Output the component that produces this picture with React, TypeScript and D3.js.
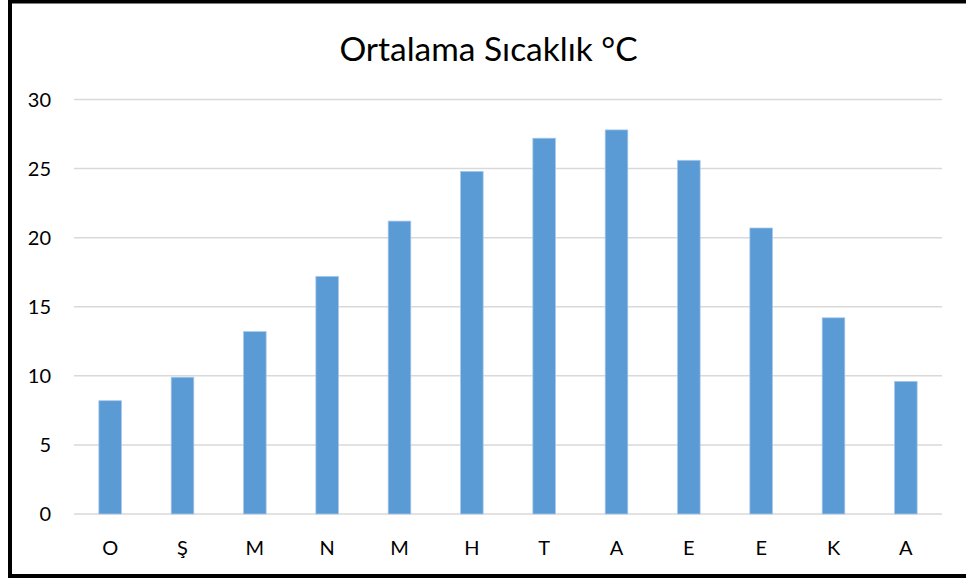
import React, {useEffect, useRef} from 'react';
import * as d3 from 'd3';

// months (Turkish initials) and average temperatures
const months: string[] = ['O', 'Ş', 'M', 'N', 'M', 'H', 'T', 'A', 'E', 'E', 'K', 'A'];
const temps: number[] = [8.2, 9.9, 13.2, 17.2, 21.2, 24.8, 27.2, 27.8, 25.6, 20.7, 14.2, 9.6];
const yTicks: number[] = [0, 5, 10, 15, 20, 25, 30];
const title = 'Ortalama Sıcaklık °C';

const App = () => {
  const ref = useRef<SVGSVGElement>(null);

  useEffect(() => {
    drawChart();
    return () => {
      d3.select(ref.current).selectAll('*').remove();
    };
  }, []);

  const drawChart = () => {
    const width = 966;
    const height = 578;
    const plot = {left: 74, right: 942, top: 99.5, bottom: 514};
    const font = 'Lato, "Open Sans", sans-serif';

    const svg = d3.select(ref.current);

    // frame: left, top and bottom edges only
    svg.append('rect').attr('width', width).attr('height', height).attr('fill', '#fff');
    svg.append('path')
      .attr('d', `M10,${height} V1.5 H${width} M10,576 H${width}`)
      .attr('stroke', '#000')
      .attr('stroke-width', 4)
      .attr('fill', 'none');

    const x = d3.scaleBand<number>()
      .domain(d3.range(months.length))
      .range([plot.left, plot.right])
      .paddingInner(0.687)
      .paddingOuter(0.687 / 2);

    const y = d3.scaleLinear().domain([0, 30]).range([plot.bottom, plot.top]);

    // gridlines
    svg.append('g')
      .selectAll('line')
      .data(yTicks)
      .enter().append('line')
      .attr('x1', plot.left)
      .attr('x2', plot.right)
      .attr('y1', d => y(d))
      .attr('y2', d => y(d))
      .attr('stroke', '#d9d9d9')
      .attr('stroke-width', 1.5);

    // y labels
    svg.append('g')
      .selectAll('text')
      .data(yTicks)
      .enter().append('text')
      .attr('x', 51)
      .attr('y', d => y(d))
      .attr('dy', '0.36em')
      .attr('text-anchor', 'end')
      .attr('font-family', font)
      .attr('font-size', 20)
      .attr('fill', '#000')
      .text(d => d);

    // bars
    svg.append('g')
      .selectAll('rect')
      .data(temps)
      .enter().append('rect')
      .attr('x', (_, i) => x(i)!)
      .attr('width', x.bandwidth())
      .attr('y', d => y(d))
      .attr('height', d => y(0) - y(d))
      .attr('fill', '#5b9bd5')
      .attr('stroke', '#a9c8ec')
      .attr('stroke-width', 0.75);

    // x labels
    svg.append('g')
      .selectAll('text')
      .data(months)
      .enter().append('text')
      .attr('x', (_, i) => x(i)! + x.bandwidth() / 2)
      .attr('y', 555)
      .attr('text-anchor', 'middle')
      .attr('font-family', font)
      .attr('font-size', 20)
      .attr('fill', '#000')
      .text(d => d);

    svg.append('text')
      .attr('x', 488.5)
      .attr('y', 61)
      .attr('text-anchor', 'middle')
      .attr('font-family', font)
      .attr('font-size', 33.5)
      .attr('fill', '#000')
      .text(title);
  };

  return (
    <svg
      ref={ref}
      width={966}
      height={578}
      style={{position: 'absolute', left: 0, top: 0}}
    />
  );
};

export default App;
